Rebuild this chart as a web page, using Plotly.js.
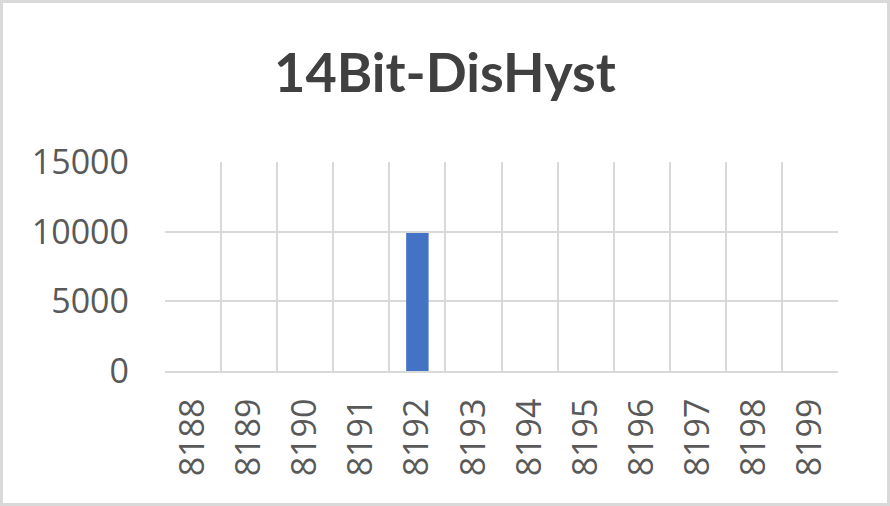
<!DOCTYPE html>
<html>
<head>
<meta charset="utf-8">
<script src="https://cdn.plot.ly/plotly-3.0.1.min.js"></script>
<style>
  html, body { margin: 0; padding: 0; background: #ffffff; }
  #wrap { position: relative; width: 890px; height: 506px; overflow: hidden; }
  #chart { width: 890px; height: 506px; }
  #frame { position: absolute; left: 0; top: 0; width: 890px; height: 506px; box-sizing: border-box; border: 3px solid #d9d9d9; pointer-events: none; }
</style>
</head>
<body>
<div id="wrap">
  <div id="chart"></div>
  <div id="frame"></div>
</div>
<script>
const chartTitle = "14Bit-DisHyst";
const categories = ["8188", "8189", "8190", "8191", "8192", "8193", "8194", "8195", "8196", "8197", "8198", "8199"];
const counts = [0, 0, 0, 0, 9900, 0, 0, 0, 0, 0, 0, 0];
const yTickValues = [0, 5000, 10000, 15000];

const trace = {
  type: "bar",
  x: categories,
  y: counts,
  marker: { color: "#4472C4" },
  hoverinfo: "x+y"
};

const layout = {
  width: 890,
  height: 506,
  margin: { l: 165, r: 52, t: 162, b: 135 },
  paper_bgcolor: "#ffffff",
  plot_bgcolor: "#ffffff",
  showlegend: false,
  bargap: 0.6,
  font: { family: "Open Sans, sans-serif", color: "#595959" },
  title: {
    text: "<b>" + chartTitle + "</b>",
    font: { family: "Lato, Open Sans, sans-serif", size: 54, color: "#404040" },
    x: 0.5, xref: "container", xanchor: "center",
    y: 0.856, yref: "container", yanchor: "middle"
  },
  xaxis: {
    type: "category",
    tickson: "boundaries",
    showgrid: true,
    gridcolor: "#d9d9d9",
    gridwidth: 2,
    showline: true,
    linecolor: "#d9d9d9",
    linewidth: 2,
    ticks: "",
    tickangle: -90,
    tickfont: { family: "Open Sans, sans-serif", size: 34, color: "#595959" },
    ticklabelstandoff: 12,
    zeroline: false
  },
  yaxis: {
    range: [0, 15000],
    tickvals: yTickValues,
    ticktext: yTickValues.map(String),
    showgrid: true,
    gridcolor: "#d9d9d9",
    gridwidth: 2,
    showline: false,
    zeroline: false,
    ticks: "",
    tickfont: { family: "Open Sans, sans-serif", size: 34, color: "#595959" },
    ticklabelstandoff: 35
  }
};

Plotly.newPlot("chart", [trace], layout, { staticPlot: true, displayModeBar: false });
</script>
</body>
</html>
